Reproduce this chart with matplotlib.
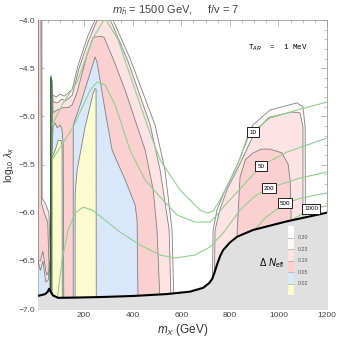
import matplotlib
matplotlib.use("Agg")
from matplotlib import pyplot as plt
from matplotlib.patches import Rectangle

plt.rcParams['font.family'] = ['Liberation Sans', 'DejaVu Sans']
plt.rcParams['mathtext.fontset'] = 'custom'
plt.rcParams['mathtext.rm'] = 'Liberation Sans'
plt.rcParams['mathtext.it'] = 'Liberation Sans:italic'

# contour levels of Delta N_eff (legend)
levels = ['0.30', '0.23', '0.10', '0.05', '0.02']
level_colors = ['#ffffff', '#fef8f8', '#fde3e3', '#fbd0d0', '#d8e8fa', '#fcfbcf']

# left region contours (m_X in GeV, log10 lambda)
c30_left = [(60, -6.96), (64, -4.57), (70, -4.78), (85, -4.80), (101, -4.77), (118, -4.79),
            (134, -4.76), (151, -4.72), (175, -4.47), (216, -4.16), (245, -4.0), (266, -3.88),
            (291, -3.83), (319, -4.0), (389, -4.40), (492, -5.09), (533, -5.56), (562, -6.18),
            (570, -6.96)]
c23_left = [(66, -6.96), (68, -4.62), (72, -4.85), (89, -4.86), (109, -4.82), (122, -4.84),
            (138, -4.81), (151, -4.78), (179, -4.50), (216, -4.23), (245, -4.05), (270, -3.92),
            (291, -3.92), (315, -4.04), (381, -4.43), (472, -5.09), (513, -5.56), (550, -6.18),
            (558, -6.96)]
c10_left = [(68, -6.96), (70, -4.80), (72, -4.96), (93, -4.93), (114, -4.91), (134, -4.91),
            (151, -4.88), (171, -4.75), (212, -4.36), (237, -4.18), (266, -4.17), (282, -4.18),
            (319, -4.40), (369, -4.73), (410, -5.04), (451, -5.35), (484, -5.76), (500, -6.18),
            (513, -6.96)]
c05_lobe1 = [(68, -6.96), (68, -5.40), (72, -5.10), (81, -5.07), (89, -5.12), (101, -5.09),
             (109, -5.14), (114, -5.30), (116, -6.96)]
c05_lobe2 = [(155, -6.96), (155, -5.09), (184, -4.88), (216, -4.62), (245, -4.384), (253, -4.436),
             (286, -4.935), (315, -5.35), (369, -5.66), (410, -5.92), (418, -6.08), (422, -6.96)]
c02_lobe1 = [(68, -6.96), (68, -5.43), (81, -5.35), (93, -5.25), (105, -5.25), (109, -5.30),
             (110, -6.96)]
c02_lobe2 = [(163, -6.96), (163, -5.80), (171, -5.56), (204, -5.11), (237, -4.76), (245, -4.71),
             (249, -4.72), (250, -6.96)]

# narrow strip at small m_X
c23_strip = [(10, -6.96), (10, -3.85), (26, -3.85), (27, -5.85), (40, -5.9), (55, -6.0),
             (60, -6.4), (60, -6.96)]
c10_strip = [(11, -6.5), (12, -3.85), (22, -3.85), (24, -5.9), (35, -6.0), (50, -6.1),
             (56, -6.6), (45, -6.65), (30, -6.4), (20, -6.5)]
c05_strip = [(10, -6.96), (10, -6.5), (20, -6.6), (30, -6.5), (42, -6.72), (52, -6.7),
             (58, -6.5), (60, -6.96)]

# right lobe contours
c30_right = [(727, -6.96), (731, -6.18), (747, -5.97), (780, -5.77), (830, -5.51), (895, -5.09),
             (965, -4.935), (1076, -4.86), (1101, -4.90), (1110, -5.11), (1112, -6.96)]
c23_right = [(735, -6.96), (739, -6.18), (759, -5.97), (790, -5.75), (840, -5.50), (904, -5.16),
             (961, -5.01), (1056, -4.955), (1089, -4.965), (1101, -5.11), (1101, -6.96)]
c10_right = [(830, -6.96), (830, -6.2), (842, -5.63), (864, -5.45), (895, -5.38), (930, -5.34),
             (965, -5.34), (1015, -5.38), (1040, -5.5), (1048, -5.66), (1052, -6.0), (1052, -6.96)]

# green contours with their labels
green_10 = [(68, -5.09), (114, -4.86), (171, -4.644), (237, -4.187), (286, -3.98), (340, -4.208),
            (389, -4.571), (459, -5.09), (513, -5.454), (595, -5.765), (677, -5.973), (706, -6.004),
            (731, -5.983), (759, -5.869), (801, -5.661), (842, -5.435), (871, -5.215), (891, -5.163),
            (965, -5.018), (1076, -4.935), (1200, -4.852)]
green_50 = [(68, -5.454), (155, -5.111), (225, -4.727), (253, -4.644), (286, -4.675), (328, -4.883),
            (389, -5.35), (451, -5.661), (513, -5.838), (583, -6.025), (657, -6.098), (718, -6.098),
            (747, -6.025), (780, -5.921), (830, -5.786), (928, -5.516), (1035, -5.371), (1200, -5.225)]
green_200 = [(89, -6.908), (109, -6.492), (134, -6.181), (163, -6.004), (196, -5.942), (233, -5.973),
             (286, -6.077), (348, -6.202), (430, -6.336), (513, -6.44), (574, -6.471), (656, -6.44),
             (718, -6.357), (772, -6.212), (842, -5.973), (904, -5.827), (961, -5.745), (1089, -5.641),
             (1200, -5.578)]
green_500 = [(880, -6.22), (895, -6.20), (945, -6.056), (1027, -5.90), (1110, -5.838), (1200, -5.796)]
green_1000 = [(985, -6.2), (994, -6.20), (1068, -6.056), (1134, -5.96), (1200, -5.93)]
green_lines = [green_10, green_50, green_200, green_500, green_1000]
green_labels = ['10', '50', '200', '500', '1000']
label_pos = [(895, -5.163), (928, -5.516), (961, -5.745), (1027, -5.90), (1134, -5.96)]

# boundary of the excluded region
bound_x = [10, 25, 40, 50, 56, 62, 72, 93, 150, 266, 400, 541, 636, 690, 715, 727, 737, 747,
           760, 772, 800, 830, 895, 1035, 1200]
bound_y = [-6.863, -6.855, -6.845, -6.82, -6.79, -6.82, -6.86, -6.884, -6.882, -6.876, -6.865,
           -6.845, -6.82, -6.78, -6.73, -6.69, -6.62, -6.54, -6.45, -6.39, -6.31, -6.25, -6.18,
           -6.09, -6.00]

fig = plt.figure(figsize=(3.38, 3.37), dpi=100)
ax = fig.add_axes([38/338, 28/337, 289/338, 289/337])

edge = '#808080'


def poly(pts, color, z):
    xs = [p[0] for p in pts]
    ys = [p[1] for p in pts]
    ax.fill(xs, ys, facecolor=color, edgecolor=edge, lw=0.6, zorder=z)


poly(c30_left, level_colors[1], 1)
poly(c23_left, level_colors[2], 2)
poly(c10_left, level_colors[3], 3)
poly(c05_lobe1, level_colors[4], 4)
poly(c05_lobe2, level_colors[4], 4)
poly(c02_lobe1, level_colors[5], 5)
poly(c02_lobe2, level_colors[5], 5)
poly(c23_strip, level_colors[2], 2)
poly(c10_strip, level_colors[3], 3)
poly(c05_strip, level_colors[4], 4)
poly(c30_right, level_colors[1], 1)
poly(c23_right, level_colors[2], 2)
poly(c10_right, level_colors[3], 3)

# resonance line
ax.plot([62, 63], [-6.8, -4.6], color='#1a5e1a', lw=1.0, zorder=6)

for g in green_lines:
    ax.plot([p[0] for p in g], [p[1] for p in g], color='#8fd18f', lw=0.8, zorder=6)

for lab, (lx, ly) in zip(green_labels, label_pos):
    ax.text(lx, ly, lab, fontsize=4.5, ha='center', va='center', zorder=9,
            bbox=dict(boxstyle='square,pad=0.35', fc='white', ec='black', lw=0.6))

ax.fill_between(bound_x, bound_y, -7.0, color='#e0e0e0', zorder=7)
ax.plot(bound_x, bound_y, color='black', lw=1.5, zorder=8)

# legend bar
for i, c in enumerate(level_colors):
    ax.add_patch(Rectangle((0.865, 0.287 - (i + 1) * 0.0398), 0.021, 0.0398,
                           transform=ax.transAxes, fc=c, ec='none', zorder=9))
for i, lab in enumerate(levels):
    yy = 0.287 - (i + 1) * 0.0398
    ax.plot([0.865, 0.886], [yy, yy], transform=ax.transAxes, color='#aaaaaa', lw=0.5, zorder=10)
    ax.text(0.9, yy, lab, transform=ax.transAxes, fontsize=3.8, color='#555555',
            va='center', ha='left', zorder=10)
ax.text(0.81, 0.16, r'$\Delta\ N_{\rm eff}$', transform=ax.transAxes, fontsize=7,
        ha='center', va='center', zorder=10)

ax.text(0.727, 0.903, 'T$_{AR}$  =  1 MeV', transform=ax.transAxes, fontsize=5.5,
        family='Liberation Mono', va='center', ha='left')

ax.set_xlim(10, 1200)
ax.set_ylim(-7.0, -4.0)
ax.set_xticks([200, 400, 600, 800, 1000, 1200])
ax.set_xticks(range(50, 1200, 50), minor=True)
ax.set_yticks([-7.0, -6.5, -6.0, -5.5, -5.0, -4.5, -4.0])
ax.set_yticklabels(['\u22127.0', '\u22126.5', '\u22126.0', '\u22125.5', '\u22125.0', '\u22124.5', '\u22124.0'])
ax.set_yticks([-7 + 0.1 * i for i in range(31)], minor=True)
ax.tick_params(which='both', direction='in', top=True, right=True, color='#999999',
               labelsize=6, labelcolor='#444444', pad=2)
ax.tick_params(which='major', length=4, width=0.5)
ax.tick_params(which='minor', length=2, width=0.4)
for s in ax.spines.values():
    s.set_color('#999999')
    s.set_linewidth(0.6)

ax.set_xlabel(r'$m_X$ (GeV)', fontsize=8.5, color='#333333', labelpad=2)
ax.set_ylabel(r'log$_{10}$ $\lambda_x$', fontsize=7.5, color='#333333', labelpad=2)
fig.text(0.52, 0.99, r'$m_{\tilde{h}}$ = 1500 GeV,     f/v = 7', fontsize=8, color='#444444',
         ha='center', va='top')

fig.savefig('out.png', dpi=100)
